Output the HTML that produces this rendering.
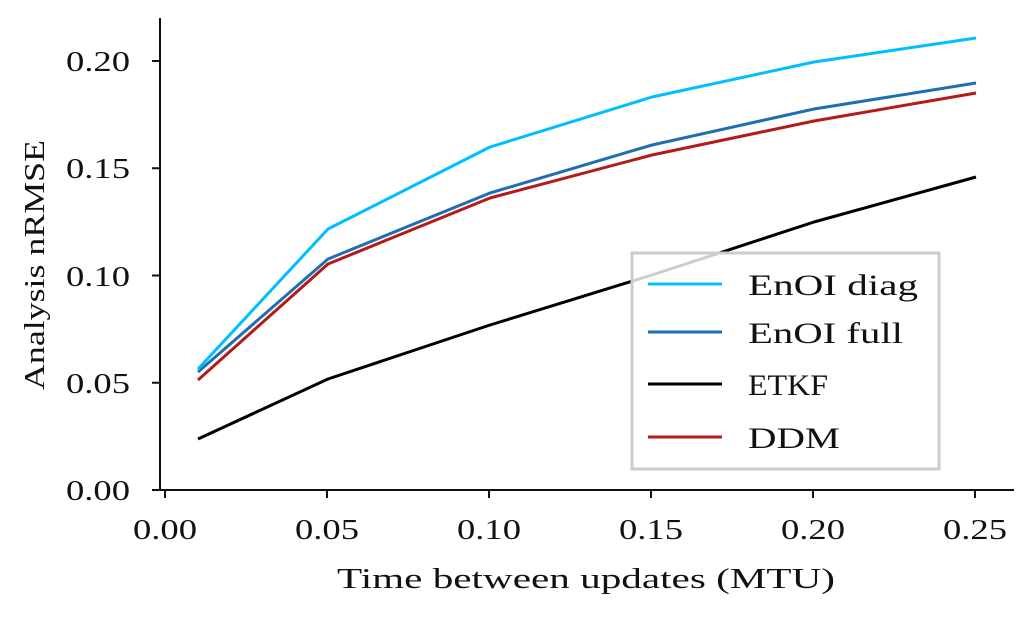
<!DOCTYPE html>
<html><head><style>
html,body{margin:0;padding:0;background:#fff;}
svg{display:block;}
text{font-family:"Liberation Serif","DejaVu Serif",serif;fill:#111;}
</style></head><body>
<svg width="1033" height="620" viewBox="0 0 1033 620" xmlns="http://www.w3.org/2000/svg">
<rect width="1033" height="620" fill="#fff"/>
<line x1="160" y1="18" x2="160" y2="491" stroke="#111" stroke-width="2"/>
<line x1="159" y1="490" x2="1014" y2="490" stroke="#111" stroke-width="2"/>
<g stroke="#111" stroke-width="2">
<line x1="152" y1="490" x2="160" y2="490"/>
<line x1="152" y1="382.75" x2="160" y2="382.75"/>
<line x1="152" y1="275.5" x2="160" y2="275.5"/>
<line x1="152" y1="168.25" x2="160" y2="168.25"/>
<line x1="152" y1="61" x2="160" y2="61"/>
<line x1="165" y1="490" x2="165" y2="498"/>
<line x1="327" y1="490" x2="327" y2="498"/>
<line x1="489" y1="490" x2="489" y2="498"/>
<line x1="651" y1="490" x2="651" y2="498"/>
<line x1="813" y1="490" x2="813" y2="498"/>
<line x1="975" y1="490" x2="975" y2="498"/>
</g>
<g font-size="29" lengthAdjust="spacingAndGlyphs">
<text x="66" y="500" textLength="64" lengthAdjust="spacingAndGlyphs">0.00</text>
<text x="66" y="393" textLength="64" lengthAdjust="spacingAndGlyphs">0.05</text>
<text x="66" y="286" textLength="64" lengthAdjust="spacingAndGlyphs">0.10</text>
<text x="66" y="178" textLength="64" lengthAdjust="spacingAndGlyphs">0.15</text>
<text x="66" y="71" textLength="64" lengthAdjust="spacingAndGlyphs">0.20</text>
<text x="133" y="539" textLength="64" lengthAdjust="spacingAndGlyphs">0.00</text>
<text x="295" y="539" textLength="64" lengthAdjust="spacingAndGlyphs">0.05</text>
<text x="457" y="539" textLength="64" lengthAdjust="spacingAndGlyphs">0.10</text>
<text x="619" y="539" textLength="64" lengthAdjust="spacingAndGlyphs">0.15</text>
<text x="781" y="539" textLength="64" lengthAdjust="spacingAndGlyphs">0.20</text>
<text x="943" y="539" textLength="64" lengthAdjust="spacingAndGlyphs">0.25</text>
<text x="337" y="588" textLength="498" lengthAdjust="spacingAndGlyphs">Time between updates (MTU)</text>
<text transform="translate(44,390) rotate(-90)" textLength="250" lengthAdjust="spacingAndGlyphs">Analysis nRMSE</text>
</g>
<g fill="none" stroke-width="3" stroke-linejoin="round">
<polyline stroke="#000" points="198,439 328,379 490,325 652,275 814,222 976,177"/>
<polyline stroke="#b31b1b" points="198,380 328,264 490,198 652,155 814,121 976,93"/>
<polyline stroke="#1f6eb4" points="198,372 328,259 490,193 652,145 814,109 976,83"/>
<polyline stroke="#00bfff" points="198,369 328,229 490,147 652,97 814,62 976,38"/>
</g>
<rect x="632" y="253" width="307" height="216" fill="#fff" fill-opacity="0.8" stroke="#cccccc" stroke-width="3"/>
<g stroke-width="3">
<line x1="648" y1="284" x2="722" y2="284" stroke="#00bfff"/>
<line x1="648" y1="332" x2="722" y2="332" stroke="#1f6eb4"/>
<line x1="648" y1="384" x2="722" y2="384" stroke="#000"/>
<line x1="648" y1="437" x2="722" y2="437" stroke="#b31b1b"/>
</g>
<g font-size="30">
<text x="748" y="295" textLength="170" lengthAdjust="spacingAndGlyphs">EnOI diag</text>
<text x="748" y="343" textLength="155" lengthAdjust="spacingAndGlyphs">EnOI full</text>
<text x="748" y="395" textLength="80" lengthAdjust="spacingAndGlyphs">ETKF</text>
<text x="748" y="448" textLength="92" lengthAdjust="spacingAndGlyphs">DDM</text>
</g>
</svg>
</body></html>
